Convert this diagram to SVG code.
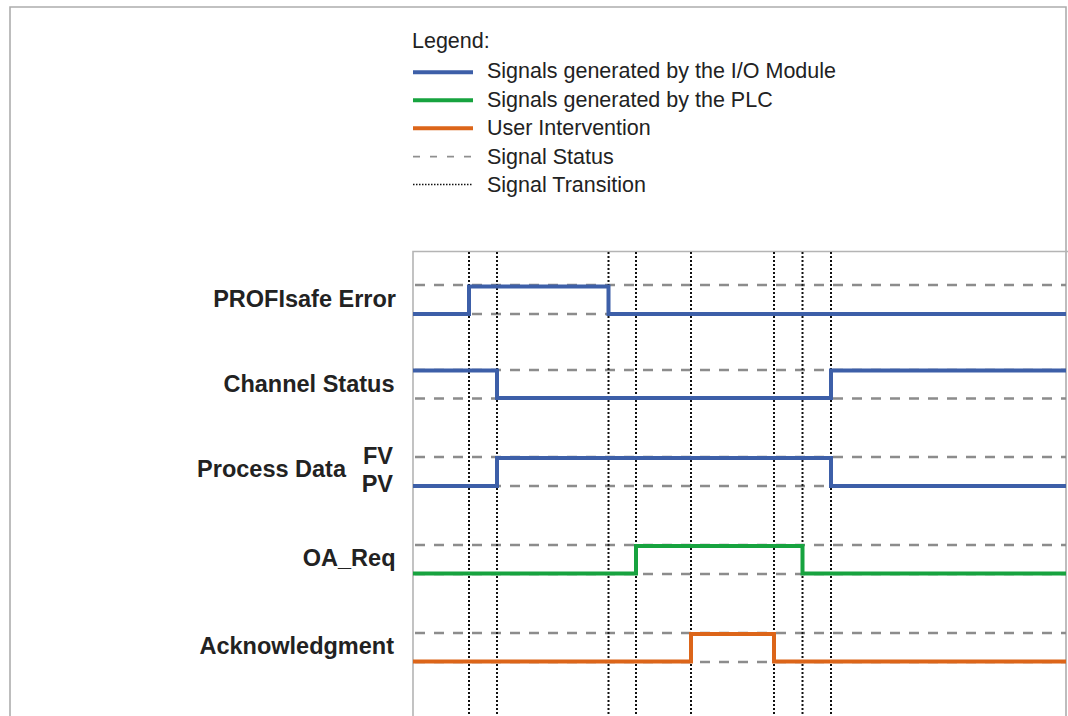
<svg xmlns="http://www.w3.org/2000/svg" width="1068" height="716" viewBox="0 0 1068 716">
<style>
.frame{fill:none;stroke:#adadad;stroke-width:1.6}
.box{fill:none;stroke:#b4b4b4;stroke-width:1.6}
.lg{font-family:"Liberation Sans",Arial,sans-serif;font-size:21.5px;fill:#222}
.lbl{font-family:"Liberation Sans",Arial,sans-serif;font-size:23.5px;font-weight:bold;fill:#222;text-anchor:end}
.dash{stroke:#8c8c8c;stroke-width:2.5;stroke-dasharray:10 9;fill:none}
.dot{stroke:#111;stroke-width:2;stroke-dasharray:2 2;fill:none}
.sig{fill:none;stroke-width:4;stroke-linejoin:miter}
.blue{stroke:#3d5fa8}
.green{stroke:#17a33f}
.orange{stroke:#dc6519}
</style>
<rect width="1068" height="716" fill="#fff"/>
<path class="frame" d="M10,720 V7 H1066 V720"/>
<path class="box" d="M413,720 V251.5 H1068"/>

<g id="legend">
<text class="lg" x="412" y="47.5">Legend:</text>
<line class="sig blue" x1="413" y1="72.3" x2="473" y2="72.3" stroke-width="3.4"/>
<text class="lg" x="487" y="78.3">Signals generated by the I/O Module</text>
<line class="sig green" x1="413" y1="100.3" x2="473" y2="100.3" stroke-width="3.4"/>
<text class="lg" x="487" y="107">Signals generated by the PLC</text>
<line class="sig orange" x1="413" y1="128.3" x2="473" y2="128.3" stroke-width="3.4"/>
<text class="lg" x="487" y="135.3">User Intervention</text>
<line x1="413" y1="156.7" x2="473" y2="156.7" stroke="#8f8f8f" stroke-width="1.8" stroke-dasharray="7 10"/>
<text class="lg" x="487" y="163.5">Signal Status</text>
<line x1="413" y1="184.5" x2="473" y2="184.5" stroke="#111" stroke-width="1.5" stroke-dasharray="1.5 1.5"/>
<text class="lg" x="487" y="191.7">Signal Transition</text>
</g>

<g id="status-lines">
<line class="dash" x1="415" y1="285" x2="1066" y2="285"/>
<line class="dash" x1="415" y1="314" x2="1066" y2="314"/>
<line class="dash" x1="415" y1="370" x2="1066" y2="370"/>
<line class="dash" x1="415" y1="398.5" x2="1066" y2="398.5"/>
<line class="dash" x1="415" y1="457" x2="1066" y2="457"/>
<line class="dash" x1="415" y1="486" x2="1066" y2="486"/>
<line class="dash" x1="415" y1="545" x2="1066" y2="545"/>
<line class="dash" x1="415" y1="574" x2="1066" y2="574"/>
<line class="dash" x1="415" y1="633" x2="1066" y2="633"/>
<line class="dash" x1="415" y1="662" x2="1066" y2="662"/>
</g>

<g id="connectors">
<line class="dot" x1="469" y1="252" x2="469" y2="716"/>
<line class="dot" x1="497" y1="252" x2="497" y2="716"/>
<line class="dot" x1="608.5" y1="252" x2="608.5" y2="716"/>
<line class="dot" x1="636" y1="252" x2="636" y2="716"/>
<line class="dot" x1="691" y1="252" x2="691" y2="716"/>
<line class="dot" x1="774" y1="252" x2="774" y2="716"/>
<line class="dot" x1="802.5" y1="252" x2="802.5" y2="716"/>
<line class="dot" x1="831" y1="252" x2="831" y2="716"/>
</g>

<g id="profisafe-error">
<text class="lbl" x="396" y="306.5">PROFIsafe Error</text>
<path class="sig blue" d="M413,314 H469 V286.5 H608.5 V314 H1066"/>
</g>
<g id="channel-status">
<text class="lbl" x="394.5" y="391.5">Channel Status</text>
<path class="sig blue" d="M413,370.5 H497 V398 H831 V370.5 H1066"/>
</g>
<g id="process-data">
<text class="lbl" x="346" y="477.3">Process Data</text>
<text class="lbl" x="393" y="464">FV</text>
<text class="lbl" x="393" y="492">PV</text>
<path class="sig blue" d="M413,486 H497 V458 H831 V486 H1066"/>
</g>
<g id="oa-req">
<text class="lbl" x="395.5" y="565.5">OA_Req</text>
<path class="sig green" d="M413,573.5 H636 V546 H802.5 V573.5 H1066"/>
</g>
<g id="acknowledgment">
<text class="lbl" x="394" y="654.3">Acknowledgment</text>
<path class="sig orange" d="M413,661.5 H691 V634 H774 V661.5 H1066"/>
</g>
</svg>
